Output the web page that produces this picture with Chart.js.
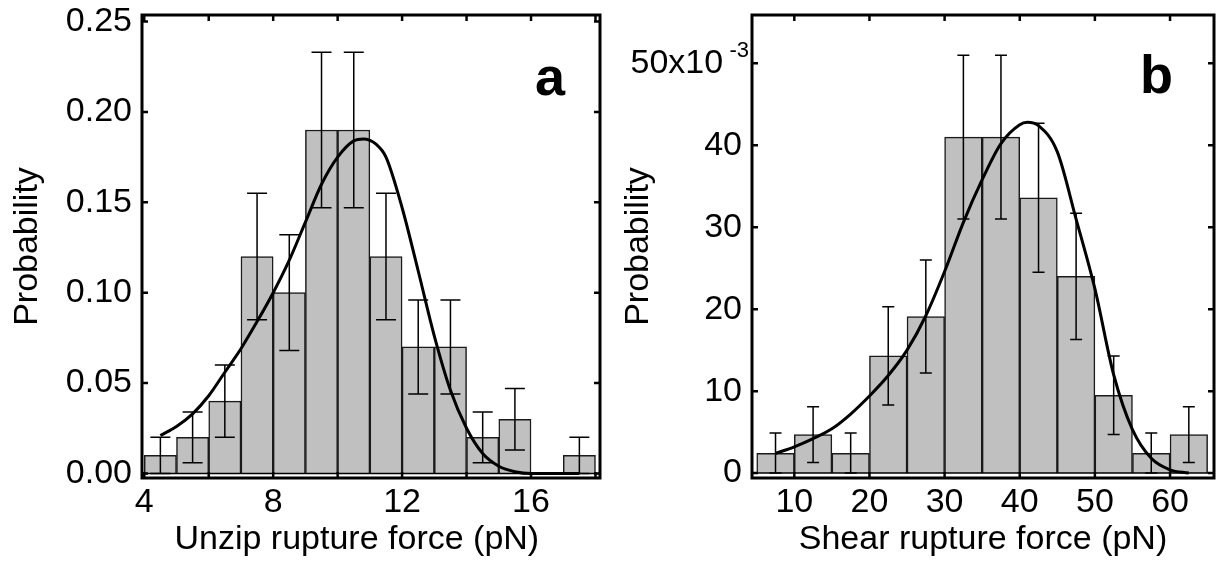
<!DOCTYPE html>
<html>
<head>
<meta charset="utf-8">
<script src="https://cdn.jsdelivr.net/npm/chart.js@4.4.1/dist/chart.umd.min.js"></script>
<style>
  html, body { margin: 0; padding: 0; background: #fff; }
  body { width: 1219px; height: 563px; position: relative; overflow: hidden; }
  canvas { position: absolute; top: 0; }
  #chartA { left: 0; }
  #chartB { left: 610px; }
</style>
</head>
<body>
<canvas id="chartA" width="610" height="563"></canvas>
<canvas id="chartB" width="609" height="563"></canvas>
<script>
// panel a: unzip rupture force histogram (bins 1 pN wide)
const unzipBins = [4.5, 5.5, 6.5, 7.5, 8.5, 9.5, 10.5, 11.5, 12.5, 13.5, 14.5, 15.5, 16.5, 17.5];
const unzipProb = [0.01, 0.02, 0.04, 0.12, 0.10, 0.19, 0.19, 0.12, 0.07, 0.07, 0.02, 0.03, 0, 0.01];
const unzipErr  = [0.01, 0.014, 0.02, 0.035, 0.032, 0.043, 0.043, 0.035, 0.026, 0.026, 0.014, 0.017, 0, 0.01];
const unzipFitX = [4.5, 5, 5.5, 6, 6.5, 7, 7.5, 8, 8.5, 9, 9.5, 10, 10.5, 10.8, 11.2, 11.5, 12, 12.5, 13, 13.5, 14, 14.5, 15, 15.5, 16, 17.5];
const unzipFitY = [0.021, 0.026, 0.033, 0.043, 0.056, 0.069, 0.084, 0.100, 0.118, 0.139, 0.160, 0.175, 0.184, 0.185, 0.182, 0.175, 0.147, 0.112, 0.076, 0.046, 0.025, 0.011, 0.004, 0.001, 0, 0];
const unzipXTicks = [4, 6, 8, 10, 12, 14, 16, 18];
const unzipXLabels = [4, 8, 12, 16];
const unzipYTicks = [0, 0.05, 0.10, 0.15, 0.20, 0.25];

// panel b: shear rupture force histogram (bins 5 pN wide), probability in units of 1e-3
const shearBins = [7.5, 12.5, 17.5, 22.5, 27.5, 32.5, 37.5, 42.5, 47.5, 52.5, 57.5, 62.5];
const shearProb = [2.4, 4.7, 2.4, 14.3, 19.1, 41, 41, 33.6, 24, 9.5, 2.4, 4.7];
const shearErr  = [2.5, 3.4, 2.5, 6.0, 6.9, 10, 10, 9.1, 7.7, 4.8, 2.5, 3.4];
const shearFitX = [7.5, 10, 12.5, 15, 17.5, 20, 22.5, 25, 27.5, 30, 32.5, 35, 37.5, 40, 41, 42.5, 45, 47.5, 50, 52.5, 55, 57.5, 60, 62.5];
const shearFitY = [2.4, 3.2, 4.2, 5.4, 7.2, 9.4, 11.9, 15.0, 19.2, 24.6, 30.6, 35.8, 40.2, 42.5, 42.8, 42.4, 39.2, 31.0, 22.5, 12.0, 5.3, 1.8, 0.4, 0];
const shearXTicks = [10, 20, 30, 40, 50, 60];
const shearYTicks = [0, 10, 20, 30, 40, 50];

const FONT = "'Liberation Sans', Arial, sans-serif";
Chart.defaults.font.family = FONT;
Chart.defaults.color = '#000';

// frame, inward ticks, error bars, panel letter
const decorations = {
  id: 'decorations',
  afterDatasetsDraw(chart, args, opts) {
    const ctx = chart.ctx;
    const x = chart.scales.x, y = chart.scales.y;
    ctx.save();
    ctx.strokeStyle = '#000';
    ctx.lineWidth = 1.5;
    // zero line
    ctx.beginPath();
    ctx.moveTo(chart.chartArea.left, y.getPixelForValue(0));
    ctx.lineTo(chart.chartArea.right, y.getPixelForValue(0));
    ctx.stroke();
    // error bars
    opts.centers.forEach((c, i) => {
      const e = opts.errors[i];
      if (!e) return;
      const px = x.getPixelForValue(c);
      const top = y.getPixelForValue(opts.values[i] + e);
      const bot = y.getPixelForValue(Math.max(opts.values[i] - e, 0));
      ctx.beginPath();
      ctx.moveTo(px, top); ctx.lineTo(px, bot);
      ctx.moveTo(px - opts.cap, top); ctx.lineTo(px + opts.cap, top);
      ctx.moveTo(px - opts.cap, bot); ctx.lineTo(px + opts.cap, bot);
      ctx.stroke();
    });
    ctx.restore();
  },
  afterDraw(chart, args, opts) {
    const ctx = chart.ctx;
    const a = chart.chartArea;
    const x = chart.scales.x, y = chart.scales.y;
    ctx.save();
    ctx.strokeStyle = '#000';
    ctx.lineWidth = 3;
    ctx.strokeRect(a.left, a.top, a.right - a.left, a.bottom - a.top);
    ctx.lineWidth = 2.5;
    ctx.beginPath();
    x.ticks.forEach(t => {
      const px = x.getPixelForValue(t.value);
      if (px < a.left || px > a.right) return;
      ctx.moveTo(px, a.bottom); ctx.lineTo(px, a.bottom - 6);
      ctx.moveTo(px, a.top); ctx.lineTo(px, a.top + 6);
    });
    y.ticks.forEach(t => {
      const py = y.getPixelForValue(t.value);
      ctx.moveTo(a.left, py); ctx.lineTo(a.left + 6, py);
      ctx.moveTo(a.right, py); ctx.lineTo(a.right - 6, py);
    });
    ctx.stroke();
    // panel letter
    ctx.fillStyle = '#000';
    ctx.font = 'bold 54px ' + FONT;
    ctx.textAlign = 'left';
    ctx.textBaseline = 'alphabetic';
    ctx.fillText(opts.letter, a.right - opts.letterDx, a.top + opts.letterDy);
    // exponent on the top y label
    if (opts.exponent) {
      ctx.font = '22px ' + FONT;
      ctx.textAlign = 'right';
      ctx.fillText(opts.exponent, y.right - 3, y.getPixelForValue(opts.exponentAt) - 6);
    }
    ctx.restore();
  }
};

function buildPanel(canvasId, p) {
  const noPad = s => { s.paddingTop = 0; s.paddingBottom = 0; s.paddingLeft = 0; s.paddingRight = 0; };
  return new Chart(document.getElementById(canvasId), {
    type: 'bar',
    data: {
      datasets: [
        {
          type: 'line',
          data: p.fitX.map((v, i) => ({ x: v, y: p.fitY[i] })),
          borderColor: '#000',
          borderWidth: 3,
          pointRadius: 0,
          fill: false,
          cubicInterpolationMode: 'monotone',
          order: 1
        },
        {
          type: 'bar',
          data: p.centers.map((v, i) => ({ x: v, y: p.values[i] })),
          backgroundColor: '#c0c0c0',
          borderColor: '#1a1a1a',
          borderWidth: 1.5,
          barPercentage: 1,
          categoryPercentage: 1,
          grouped: false,
          order: 2
        }
      ]
    },
    options: {
      responsive: false,
      animation: false,
      layout: { padding: { top: 15, right: p.padRight, left: 0, bottom: 0 } },
      plugins: {
        legend: { display: false },
        tooltip: { enabled: false },
        decorations: {
          centers: p.centers, values: p.values, errors: p.errors, cap: p.cap,
          letter: p.letter, letterDx: p.letterDx, letterDy: p.letterDy,
          exponent: p.exponent, exponentAt: p.exponentAt
        }
      },
      scales: {
        x: {
          type: 'linear',
          min: p.xMin, max: p.xMax,
          offset: false,
          grid: { display: false },
          border: { display: false },
          afterBuildTicks: s => { s.ticks = p.xTicks.map(v => ({ value: v })); },
          afterFit: s => { s.height = 85; noPad(s); },
          ticks: {
            autoSkip: false, maxRotation: 0, padding: -4,
            font: { size: 34 },
            callback: v => p.xLabels.includes(v) ? String(v) : ''
          },
          title: { display: true, text: p.xTitle, font: { size: 34 }, padding: { top: 0, bottom: 3 } }
        },
        y: {
          type: 'linear',
          min: p.yMin, max: p.yMax,
          grid: { display: false },
          border: { display: false },
          afterBuildTicks: s => { s.ticks = p.yTicks.map(v => ({ value: v })); },
          afterFit: s => { s.width = 142; noPad(s); },
          ticks: {
            autoSkip: false, padding: 2,
            font: { size: 34 },
            callback: p.yFormat
          },
          title: { display: true, text: 'Probability', font: { size: 34 }, padding: { top: p.yTitlePad, bottom: 0 } }
        }
      }
    },
    plugins: [decorations]
  });
}

buildPanel('chartA', {
  centers: unzipBins, values: unzipProb, errors: unzipErr, cap: 10,
  fitX: unzipFitX, fitY: unzipFitY,
  xMin: 3.93, xMax: 18.14, yMin: -0.0025, yMax: 0.2536,
  xTicks: unzipXTicks, xLabels: unzipXLabels, yTicks: unzipYTicks,
  yFormat: v => v.toFixed(2),
  xTitle: 'Unzip rupture force (pN)   ',
  yTitlePad: 7, padRight: 10,
  letter: 'a', letterDx: 65, letterDy: 80
});

buildPanel('chartB', {
  centers: shearBins, values: shearProb, errors: shearErr, cap: 6,
  fitX: shearFitX, fitY: shearFitY,
  xMin: 4.37, xMax: 65.85, yMin: -0.6, yMax: 55.9,
  xTicks: shearXTicks, xLabels: shearXTicks, yTicks: shearYTicks,
  yFormat: v => v === 50 ? '50x10  ' : String(v),
  xTitle: 'Shear rupture force (pN)',
  yTitlePad: 8, padRight: 5,
  letter: 'b', letterDx: 74, letterDy: 78,
  exponent: '-3', exponentAt: 50
});
</script>
</body>
</html>
